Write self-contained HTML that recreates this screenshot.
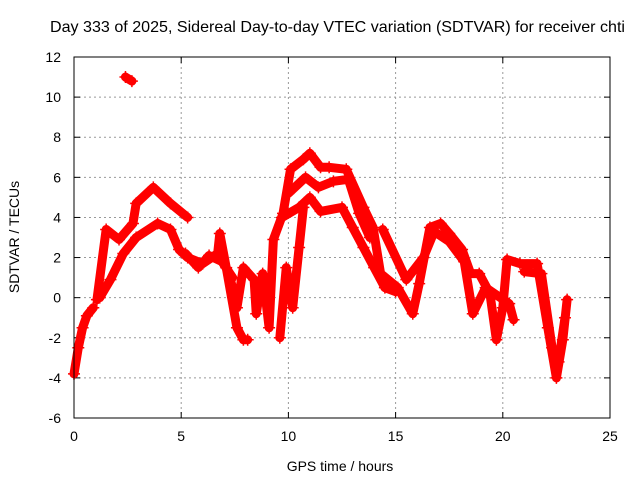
<!DOCTYPE html>
<html><head><meta charset="utf-8"><style>
body{margin:0;background:#fff}
svg{display:block;font-family:"Liberation Sans",sans-serif}
</style></head><body>
<svg id="c" width="640" height="480">
<text x="50" y="32" font-size="16" textLength="575" lengthAdjust="spacingAndGlyphs">Day 333 of 2025, Sidereal Day-to-day VTEC variation (SDTVAR) for receiver chti</text>
<text x="340" y="471" font-size="14" text-anchor="middle">GPS time / hours</text>
<text transform="translate(19,237) rotate(-90)" font-size="14" text-anchor="middle">SDTVAR / TECUs</text>
<g id="grid"></g><g id="ticks"></g><g id="data"></g>
<rect x="74" y="57" width="536" height="361" fill="none" stroke="#000"/>
</svg>
<script>
const xTicks=[0,5,10,15,20,25];
const yTicks=[-6,-4,-2,0,2,4,6,8,10,12];
const trace1=[[0,-3.8],[0.2,-2.5],[0.4,-1.5],[0.6,-0.9],[0.9,-0.5]];
const trace2=[[1.07,-0.1],[1.5,3.4],[2.1,2.9],[2.75,3.7],[2.9,4.7],[3.7,5.5],[4.5,4.7],[5.3,4.0]];
const trace3=[[1.2,0],[1.7,0.9],[2.3,2.2],[2.9,3],[3.9,3.7],[4.5,3.4],[4.9,2.4],[5.3,2],[6,1.7],[6.7,2.2],[6.8,3.2],[7.1,1.5],[7.6,-1.5],[7.9,-2.1],[8.1,-2.1]];
const trace4=[[7.3,0.9],[7.6,-0.5],[7.9,1.5],[8.4,0.9],[8.5,-0.8],[8.8,1.2],[9.1,-1.5],[9.3,2.9],[9.75,4.2],[10.1,6.4],[10.7,6.9],[11,7.2],[11.5,6.5],[11.9,6.5],[12.7,6.4],[13.5,4.5],[13.95,3.5],[14.3,1.2],[15.1,0.5],[15.8,-0.8],[16.1,0.7],[16.6,3.5],[17.1,3.7],[17.5,3.2],[18.1,2.4],[18.5,1.2],[18.9,1.2],[19.4,0.2],[19.7,-2.1],[20,-0.5],[20.2,1.9],[20.8,1.7],[21.6,1.7],[22.1,-1.5],[22.5,-4],[22.8,-2.1],[23,-0.1]];
const trace5=[[9.6,-2],[9.9,1.5],[10.2,-0.5],[10.5,2.5],[10.7,4.5]];
const trace6=[[9.7,4],[10.5,4.5],[11,5],[11.5,4.3],[12.5,4.5],[13,3.5],[13.5,2.5],[14,1.5],[14.5,0.5],[15,0.3]];
const trace7=[[14.4,3.4],[15.5,0.9],[16.3,2],[16.8,3.3],[17.5,2.8],[18.2,1.8],[18.6,-0.8],[19.2,0.5],[20.3,-0.3],[20.5,-1.1]];
const trace8=[[2.4,11],[2.7,10.8]];
const trace9=[[10,5.2],[10.8,6],[11.4,5.5],[12.1,5.8],[12.8,5.9],[13.3,4.2],[13.8,3]];
const trace10=[[5.2,2.2],[5.8,1.5],[6.3,2.1],[6.9,1.8],[7.4,1]];
const trace11=[[21,1.3],[21.8,1.2],[22.3,-2.5],[22.6,-3.2],[22.9,-1]];
const traces=[trace1,trace2,trace3,trace4,trace5,trace6,trace7,trace8,trace9,trace10,trace11];
const X=h=>74+h*536/25, Y=v=>418-(v+6)*361/18;
const NS='http://www.w3.org/2000/svg';
function mk(t,a,p){const e=document.createElementNS(NS,t);for(const k in a)e.setAttribute(k,a[k]);p.appendChild(e);return e;}
const g=document.getElementById('grid'),tk=document.getElementById('ticks'),d=document.getElementById('data');
xTicks.forEach(t=>{const x=X(t);
 if(t>0&&t<25){const l=mk('line',{x1:x,x2:x,y1:57,y2:418,stroke:'#999','stroke-dasharray':'2,3'},g);
 
 }
 mk('line',{x1:x,x2:x,y1:418,y2:412,stroke:'#000'},tk);mk('line',{x1:x,x2:x,y1:57,y2:63,stroke:'#000'},tk);
 const s=mk('text',{x:x,y:441,'font-size':14,'text-anchor':'middle'},tk);s.textContent=t;
 
 });
yTicks.forEach(t=>{const y=Y(t);
 if(t>-6&&t<12){const l=mk('line',{x1:74,x2:610,y1:y,y2:y,stroke:'#999','stroke-dasharray':'2,3'},g);
 
 }
 mk('line',{x1:74,x2:80,y1:y,y2:y,stroke:'#000'},tk);mk('line',{x1:610,x2:604,y1:y,y2:y,stroke:'#000'},tk);
 const s=mk('text',{x:61,y:y+5,'font-size':14,'text-anchor':'end'},tk);s.textContent=t;
 
 });
traces.forEach((tr,i)=>{
 const p=mk('polyline',{points:tr.map(q=>X(q[0])+','+Y(q[1])).join(' '),fill:'none',stroke:'#f00','stroke-width':9,'stroke-linejoin':'round','stroke-linecap':'round'},d);
 
 
 tr.forEach(q=>{const x=X(q[0]),y=Y(q[1]);
  const m=mk('path',{d:`M${x-6},${y}h12M${x},${y-6}v12`,stroke:'#f00','stroke-width':1.5},d);
  
  });
});
</script>
</body></html>
